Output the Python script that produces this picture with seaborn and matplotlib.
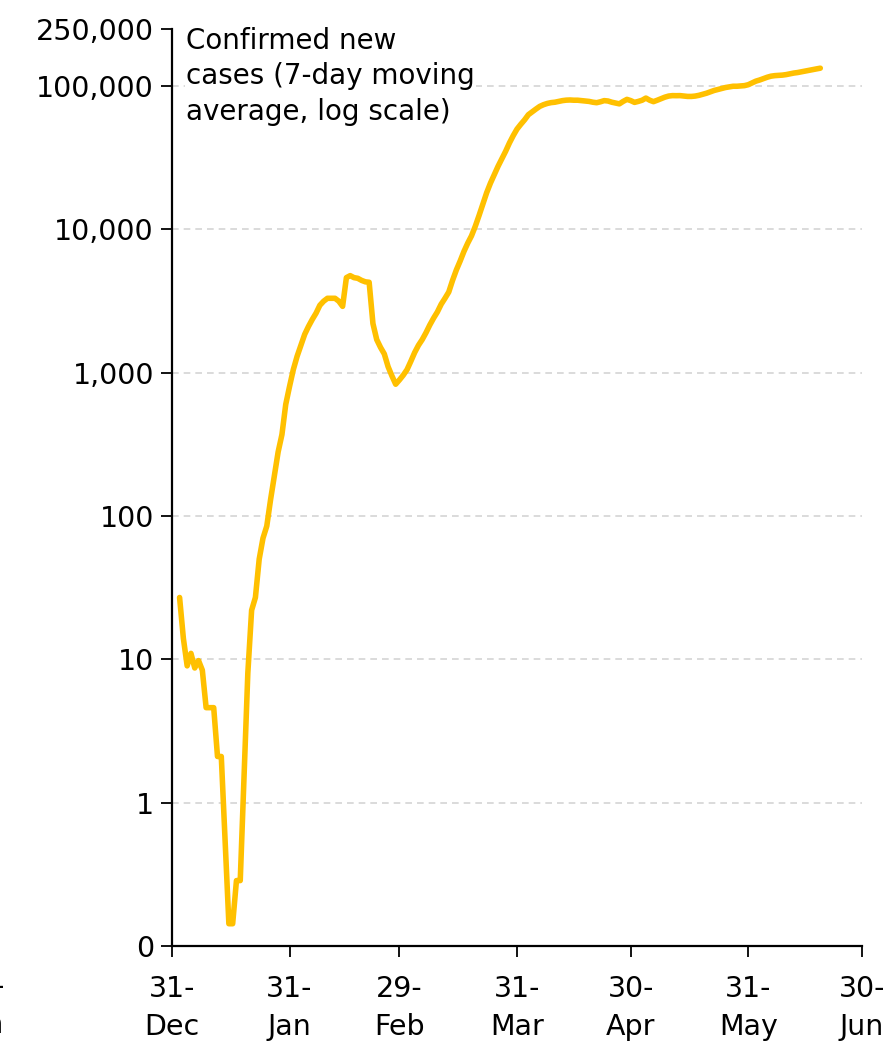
import matplotlib
matplotlib.use("Agg")
import matplotlib.pyplot as plt
import seaborn as sns
import pandas as pd

# ---- data (7-day moving average of confirmed new cases, daily from 2 Jan 2020) ----
start_date = "2020-01-02"
cases = [
    27, 14, 9, 11, 8.7, 9.8, 8.4, 4.6, 4.6, 4.6,
    2.1, 2.1, 0.55, 0.143, 0.143, 0.286, 0.286, 1.5, 8, 22,
    27, 50, 70, 85, 130, 190, 280, 370, 600, 800,
    1050, 1300, 1550, 1850, 2100, 2350, 2600, 2950, 3150, 3300,
    3300, 3300, 3150, 2900, 4600, 4750, 4600, 4550, 4400, 4300,
    4270, 2200, 1700, 1500, 1350, 1100, 950, 830, 890, 960,
    1050, 1200, 1380, 1550, 1700, 1900, 2150, 2400, 2650, 3000,
    3300, 3650, 4400, 5200, 6000, 7000, 8000, 9000, 10500, 12500,
    15000, 18000, 21000, 24000, 27500, 31000, 35000, 40000, 45000, 50000,
    54000, 58000, 63000, 66000, 69000, 72000, 74000, 75500, 76500, 77000,
    78000, 79000, 79600, 79800, 79500, 79500, 79000, 78500, 78000, 77000,
    76400, 77500, 79000, 78500, 77000, 76000, 75000, 78000, 80600, 79000,
    76800, 78000, 79500, 82300, 79500, 77700, 79500, 81500, 83500, 85000,
    85600, 85500, 85600, 85000, 84500, 84500, 85000, 86000, 87500, 89000,
    91000, 93000, 94500, 96000, 97500, 98500, 99500, 99500, 100000, 100500,
    102000, 105000, 108000, 110000, 112500, 115000, 117000, 118000, 118500, 119000,
    120000, 121500, 123000, 124000, 125500, 127000, 128500, 130000, 131500, 133000,
]
x_tick_dates = ["2019-12-31", "2020-01-31", "2020-02-29", "2020-03-31",
                "2020-04-30", "2020-05-31", "2020-06-30"]
x_tick_labels = ["31-\nDec", "31-\nJan", "29-\nFeb", "31-\nMar",
                 "30-\nApr", "31-\nMay", "30-\nJun"]
y_tick_values = [0.1, 1, 10, 100, 1000, 10000, 100000, 250000]
y_tick_labels = ["0", "1", "10", "100", "1,000", "10,000", "100,000", "250,000"]
grid_values = [1, 10, 100, 1000, 10000, 100000]
annotation = "Confirmed new\ncases (7-day moving\naverage, log scale)"

df = pd.DataFrame({
    "date": pd.date_range(start_date, periods=len(cases), freq="D"),
    "cases": cases,
})

sns.set_style("white")
plt.rcParams["font.family"] = ["DejaVu Sans"]

fig = plt.figure(figsize=(8.92, 10.45), dpi=100)
ax = fig.add_axes([172 / 892, 1 - 946 / 1045, (862 - 172) / 892, (946 - 28.9) / 1045])

for g in grid_values:
    ax.axhline(g, color="#d4d4d4", lw=1.2, ls=(0, (4, 3)), zorder=0)

sns.lineplot(data=df, x="date", y="cases", ax=ax, color="#FFC000", lw=4.0,
             solid_capstyle="round", solid_joinstyle="round", zorder=3)

ax.set_yscale("log")
ax.set_ylim(0.1, 250000)
ax.set_xlim(pd.Timestamp(x_tick_dates[0]), pd.Timestamp(x_tick_dates[-1]))

ax.set_yticks(y_tick_values)
ax.set_yticklabels(y_tick_labels)
ax.yaxis.set_minor_locator(matplotlib.ticker.NullLocator())
ax.set_xticks([pd.Timestamp(d) for d in x_tick_dates])
ax.set_xticklabels(x_tick_labels)

ax.tick_params(axis="both", which="major", labelsize=20.5, length=8, width=1.3,
               color="black", labelcolor="black", direction="out")
ax.tick_params(axis="y", pad=5, left=True)
ax.tick_params(axis="x", pad=13, bottom=True)
for lbl in ax.get_xticklabels():
    lbl.set_linespacing(1.45)

ax.set_xlabel("")
ax.set_ylabel("")
for s in ["top", "right"]:
    ax.spines[s].set_visible(False)
for s in ["left", "bottom"]:
    ax.spines[s].set_color("black")
    ax.spines[s].set_linewidth(1.6)

ax.text(186 / 892, 1 - 27 / 1045, annotation, transform=fig.transFigure,
        fontsize=20, va="top", ha="left", linespacing=1.33, color="black",
        bbox=dict(facecolor="white", edgecolor="none", pad=1), zorder=5)

# partially visible label of neighbouring panel at the left edge
fig.text(-18 / 892, 1 - 973 / 1045, "30-\nJun", fontsize=20.5, ha="center",
         va="top", linespacing=1.45, color="black")

fig.savefig("out.png", dpi=100)
